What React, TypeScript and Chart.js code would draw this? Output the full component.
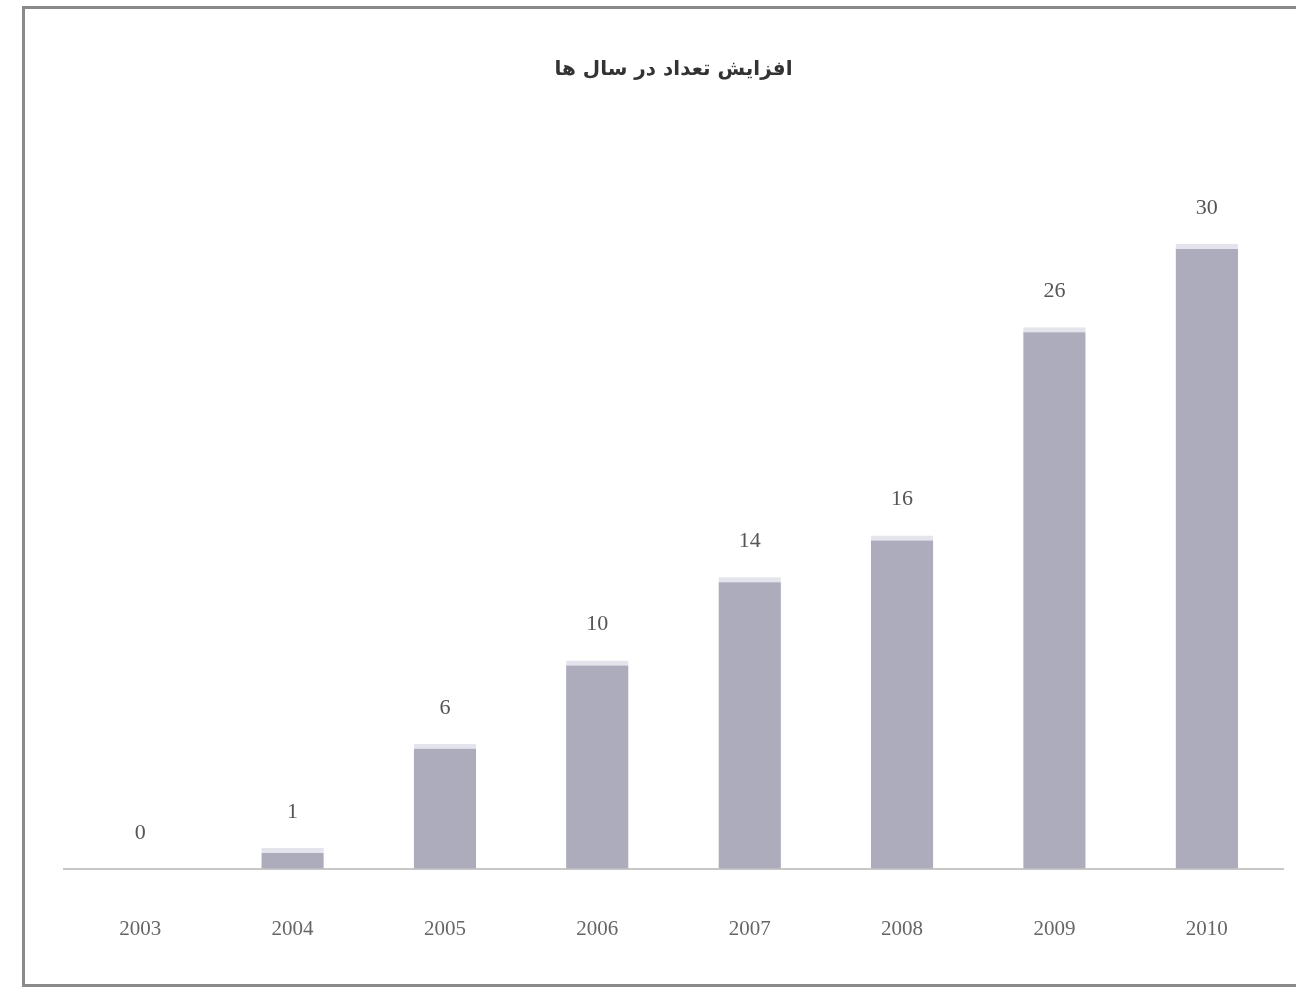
import React, { useEffect, useRef } from "react";
import { Chart, registerables } from "chart.js";

Chart.register(...registerables);

const titleText = "افزایش تعداد در سال ها";
const years = ["2003", "2004", "2005", "2006", "2007", "2008", "2009", "2010"];
const counts = [0, 1, 6, 10, 14, 16, 26, 30];
const yMax = 36;

const valueLabels = {
  id: "valueLabels",
  afterDatasetsDraw(chart: any) {
    const ctx = chart.ctx;
    const meta = chart.getDatasetMeta(0);
    ctx.save();
    ctx.font = "22px 'Liberation Serif', serif";
    ctx.fillStyle = "#555";
    ctx.textAlign = "center";
    ctx.textBaseline = "middle";
    meta.data.forEach((bar: any, i: number) => {
      ctx.fillText(String(counts[i]), bar.x, bar.y - 36);
    });
    ctx.restore();
  },
};

export default function App() {
  const ref = useRef<HTMLCanvasElement | null>(null);
  useEffect(() => {
    if (!ref.current) return;
    const chart = new Chart(ref.current, {
      type: "bar",
      data: {
        labels: years,
        datasets: [
          {
            data: counts,
            backgroundColor: "#adacbd",
            borderColor: "#e4e4ec",
            borderWidth: { top: 5, left: 0, right: 0, bottom: 0 },
            borderSkipped: "bottom",
            barPercentage: 0.41,
            categoryPercentage: 1,
          },
        ],
      },
      options: {
        responsive: false,
        animation: false,
        maintainAspectRatio: false,
        layout: { padding: { left: 64, right: 13, top: 0, bottom: 1 } },
        plugins: {
          legend: { display: false },
          tooltip: { enabled: false },
          title: {
            display: true,
            text: titleText,
            color: "#333",
            font: { family: "'DejaVu Sans', sans-serif", size: 20, weight: "bold" },
            padding: { top: 58, bottom: 37 },
          },
        },
        scales: {
          x: {
            grid: { display: false, drawTicks: false },
            border: { display: true, color: "#c8c8c8", width: 2 },
            ticks: {
              color: "#666",
              padding: 48,
              font: { family: "'Liberation Serif', serif", size: 21 },
            },
          },
          y: {
            display: false,
            min: 0,
            max: yMax,
          },
        },
      },
      plugins: [valueLabels],
    });
    return () => chart.destroy();
  }, []);

  return (
    <div style={{ position: "fixed", left: 0, top: 0, width: 1296, height: 991, background: "#fff", overflow: "hidden" }}>
      <div
        style={{
          position: "absolute",
          left: 22,
          top: 6,
          width: 1300,
          height: 981,
          border: "3px solid #8a8a8a",
          boxSizing: "border-box",
        }}
      />
      <canvas ref={ref} width={1296} height={991} style={{ position: "absolute", left: 0, top: 0 }} />
    </div>
  );
}
